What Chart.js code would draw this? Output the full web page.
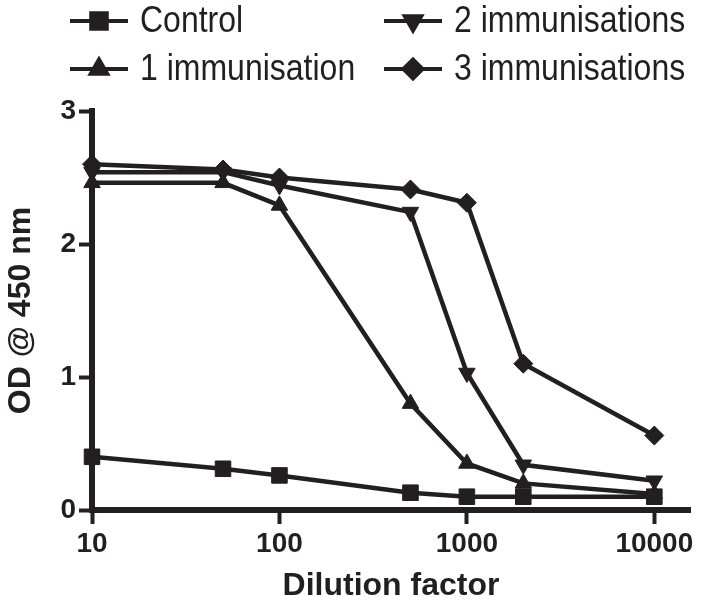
<!DOCTYPE html>
<html><head><meta charset="utf-8">
<script src="https://cdn.jsdelivr.net/npm/chart.js@4.4.1/dist/chart.umd.min.js"></script>
<style>html,body{margin:0;padding:0;background:#fff}#wrap{width:702px;height:605px}</style>
</head><body><div id="wrap"><canvas id="c" width="702" height="605"></canvas></div>
<script>
// ---- data ----
const dilutions = [10, 50, 100, 500, 1000, 2000, 10000];
const control = [0.40, 0.31, 0.26, 0.13, 0.10, 0.10, 0.10];
const imm1 = [2.46, 2.46, 2.29, 0.80, 0.35, 0.20, 0.12];
const imm2 = [2.54, 2.54, 2.44, 2.24, 1.03, 0.34, 0.22];
const imm3 = [2.60, 2.56, 2.50, 2.41, 2.31, 1.10, 0.56];
const seriesLabels = ['Control', '1 immunisation', '2 immunisations', '3 immunisations'];
const xTickValues = [10, 100, 1000, 10000];
const yTickValues = [0, 1, 2, 3];
const xTitle = 'Dilution factor';
const yTitle = 'OD @ 450 nm';

const INK = '#231f20';
const FONT = "'Liberation Sans', Arial, Helvetica, sans-serif";

function pts(vals) { return dilutions.map((d, i) => ({ x: d, y: vals[i] })); }

const markerStyles = [
  { pointStyle: 'rect', pointRadius: 11, pointRotation: 0 },
  { pointStyle: 'triangle', pointRadius: 9.5, pointRotation: 0 },
  { pointStyle: 'triangle', pointRadius: 9.5, pointRotation: 180 },
  { pointStyle: 'rectRot', pointRadius: 9.5, pointRotation: 0 }
];
const seriesValues = [control, imm1, imm2, imm3];

const datasets = seriesValues.map((vals, i) => Object.assign({
  label: seriesLabels[i],
  data: pts(vals),
  borderColor: INK,
  backgroundColor: INK,
  borderWidth: 4.5,
  pointBackgroundColor: INK,
  pointBorderColor: INK,
  pointBorderWidth: 1,
  tension: 0,
  clip: false
}, markerStyles[i]));

// custom two-column legend (line + marker + text)
const legendPlugin = {
  id: 'customLegend',
  afterDraw(chart) {
    const ctx = chart.ctx;
    const layout = [
      { ds: 0, x: 70, y: 21 },
      { ds: 2, x: 384, y: 21 },
      { ds: 1, x: 70, y: 69 },
      { ds: 3, x: 384, y: 69 }
    ];
    ctx.save();
    layout.forEach(it => {
      const ds = chart.data.datasets[it.ds];
      ctx.strokeStyle = INK; ctx.fillStyle = INK; ctx.lineWidth = 4;
      ctx.beginPath(); ctx.moveTo(it.x, it.y); ctx.lineTo(it.x + 58, it.y); ctx.stroke();
      Chart.helpers.drawPoint(ctx, {
        pointStyle: ds.pointStyle, radius: ds.pointRadius, rotation: ds.pointRotation, borderWidth: 1
      }, it.x + 29, it.y);
      ctx.save();
      ctx.translate(it.x + 70, it.y);
      ctx.scale(1, 1.15);
      ctx.font = "32px " + FONT;
      ctx.textBaseline = 'middle';
      ctx.textAlign = 'left';
      ctx.fillStyle = INK;
      ctx.fillText(ds.label, 0, 1);
      ctx.restore();
    });
    ctx.restore();
  }
};

new Chart(document.getElementById('c'), {
  type: 'line',
  data: { datasets },
  plugins: [legendPlugin],
  options: {
    responsive: false,
    animation: false,
    devicePixelRatio: 1,
    layout: { padding: { top: 111, right: 9, left: 0, bottom: 0 } },
    plugins: { legend: { display: false }, tooltip: { enabled: false } },
    scales: {
      x: {
        type: 'logarithmic',
        min: 10,
        max: 15500,
        afterBuildTicks(scale) { scale.ticks = xTickValues.map(v => ({ value: v })); },
        afterFit(scale) { scale.height = 95; },
        ticks: {
          autoSkip: false, maxRotation: 0, padding: 3, color: INK,
          font: { family: FONT, size: 28, weight: 'bold' },
          callback: v => String(v)
        },
        grid: { drawOnChartArea: false, drawTicks: true, tickLength: 14, tickWidth: 4, tickColor: INK },
        border: { display: true, width: 6, color: INK },
        title: {
          display: true, text: xTitle, color: INK,
          font: { family: FONT, size: 32, weight: 'bold', lineHeight: 1.2 },
          padding: { top: 0, bottom: 0 }
        }
      },
      y: {
        type: 'linear',
        min: 0, max: 3,
        afterBuildTicks(scale) { scale.ticks = yTickValues.map(v => ({ value: v })); },
        afterFit(scale) { scale.width = 92; },
        ticks: {
          padding: 3, color: INK,
          font: { family: FONT, size: 28, weight: 'bold' },
          callback: v => String(v)
        },
        grid: { drawOnChartArea: false, drawTicks: true, tickLength: 13, tickWidth: 4, tickColor: INK },
        border: { display: true, width: 6, color: INK },
        title: {
          display: true, text: yTitle, color: INK,
          font: { family: FONT, size: 32, weight: 'bold', lineHeight: 1.2 },
          padding: { top: 2, bottom: 0 }
        }
      }
    }
  }
});
</script>
</body></html>
